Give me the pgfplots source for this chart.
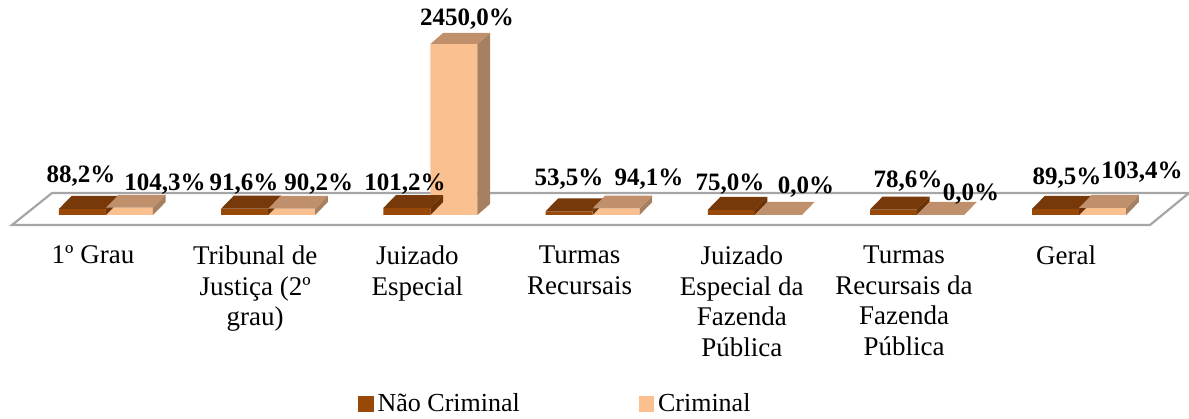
\documentclass[border=0pt]{standalone}
\usepackage{fontspec}
\setmainfont{Liberation Serif}
\usepackage{pgfplots}
\pgfplotsset{compat=1.18}
\usepackage{pgfplotstable}
\definecolor{ncf}{HTML}{984807}
\definecolor{nct}{HTML}{77380A}
\definecolor{ncs}{HTML}{6B3306}
\definecolor{cf}{HTML}{FAC090}
\definecolor{ct}{HTML}{C0906C}
\definecolor{cs}{HTML}{A58061}
\definecolor{floorc}{HTML}{A6A6A6}
\pgfdeclareplotmark{empty}{}
\pgfplotstableread{
x v lx ly
0 88.2 -12.5 16.2
1 91.6 -12.1 12.3
2 101.2 -12.75 12.0
3 53.5 -11.75 16.1
4 75.0 -12.4 12.9
5 78.6 -4.5 14.25
6 89.5 -6.1 15.4
}\tnc
\pgfplotstableread{
x v lx ly
0 104.3 29.5 11.9
1 90.2 25.25 12.35
2 2450.0 18.25 12.25
3 94.1 28.25 14.7
4 0.0 25.6 13.75
5 0.0 27 10.25
6 103.4 31.4 17.65
}\tcrim
\pgfplotsset{
  faces/.style n args={3}{%
    scatter, only marks, mark=empty, forget plot,
    visualization depends on={\thisrow{v} \as \vv},
    scatter/@pre marker code/.code={%
      \begin{pgfscope}%
      \pgftransformshift{\pgfqpoint{#1pt}{0pt}}%
      \pgfmathsetmacro\hh{\vv*0.0349}%
      \pgfmathsetmacro\dd{6.5-0.0117*\hh}%
      \pgfmathsetmacro\bb{\dd-\hh}%
      \pgfsetfillcolor{#3}%
      \pgfpathmoveto{\pgfqpoint{11.75pt}{0pt}}%
      \pgfpathlineto{\pgfqpoint{18.05pt}{\dd pt}}%
      \pgfpathlineto{\pgfqpoint{18.05pt}{\bb pt}}%
      \pgfpathlineto{\pgfqpoint{11.75pt}{-\hh pt}}%
      \pgfpathclose\pgfusepath{fill}%
      \pgfsetfillcolor{#2}%
      \pgfpathmoveto{\pgfqpoint{-11.75pt}{0pt}}%
      \pgfpathlineto{\pgfqpoint{11.75pt}{0pt}}%
      \pgfpathlineto{\pgfqpoint{18.05pt}{\dd pt}}%
      \pgfpathlineto{\pgfqpoint{-5.45pt}{\dd pt}}%
      \pgfpathclose\pgfusepath{fill}%
      \end{pgfscope}%
    },
    scatter/@post marker code/.code={},
  },
  vlabels/.style={%
    only marks, mark=empty, forget plot, point meta=y,
    visualization depends on={\thisrow{lx} \as \lx},
    visualization depends on={\thisrow{ly} \as \ly},
    nodes near coords={\pgfmathprintnumber[fixed, fixed zerofill, precision=1, use comma, 1000 sep={}, assume math mode=true]{\pgfplotspointmeta}\%},
    every node near coord/.append style={anchor=center, inner sep=0pt, xshift=\lx pt, yshift=\ly pt, font=\bfseries\fontsize{12.5}{14}\selectfont, text=black},
  },
}
\begin{document}
\begin{tikzpicture}
\begin{axis}[
  scale only axis, width=594.5pt, height=209pt,
  xmin=-0.6535, xmax=6.6769, ymin=-2908.3, ymax=3080.2,
  clip=false,
  axis line style={draw=none},
  major tick length=0pt,
  ytick=\empty,
  xtick={0,1,2,3,4,5,6},
  xticklabels={1º Grau, {Tribunal de\\Justiça (2º\\grau)}, {Juizado\\Especial}, {Turmas\\Recursais}, {Juizado\\Especial da\\Fazenda\\Pública}, {Turmas\\Recursais da\\Fazenda\\Pública}, Geral},
  xticklabel style={font=\fontsize{13.5}{15.3}\selectfont, align=center, inner sep=0pt, anchor=north, xshift=-6.5pt, yshift=86.3pt},
  legend style={draw=none, fill=none, legend columns=2, at={(rel axis cs:0.3011,0.0335)}, anchor=west, inner sep=0pt, font=\fontsize{13}{15}\selectfont, /tikz/every even column/.append style={column sep=57.5pt}},
  legend cell align=left,
]
\draw[floorc, line width=1.1pt, fill=white] (axis cs:-0.5795,-143.3) -- (axis cs:-0.333,315.2) -- (axis cs:6.677,315.2) -- (axis cs:6.4365,-143.3) -- cycle;
\addplot[ybar, bar width=23.5pt, bar shift=-11.75pt, fill=ncf, draw=none, forget plot] table[x=x,y=v]{\tnc};
\addplot[faces={-11.75}{nct}{ncs}] table[x=x,y=v]{\tnc};
\addplot[ybar, bar width=23.5pt, bar shift=11.75pt, fill=cf, draw=none, forget plot] table[x=x,y=v]{\tcrim};
\addplot[faces={11.75}{ct}{cs}] table[x=x,y=v]{\tcrim};
\addplot[vlabels] table[x=x,y=v]{\tnc};
\addplot[vlabels] table[x=x,y=v]{\tcrim};
\addlegendimage{legend image code/.code={\fill[ncf] (0pt,-3.6pt) rectangle (7.2pt,3.6pt);}}
\addlegendentry{Não Criminal}
\addlegendimage{legend image code/.code={\fill[cf] (0pt,-3.6pt) rectangle (7.2pt,3.6pt);}}
\addlegendentry{Criminal}
\coordinate (bl) at (rel axis cs:0,0);
\coordinate (tr) at (rel axis cs:1,1);
\end{axis}
\pgfresetboundingbox
\path[use as bounding box] (bl) rectangle (tr);
\end{tikzpicture}
\end{document}
